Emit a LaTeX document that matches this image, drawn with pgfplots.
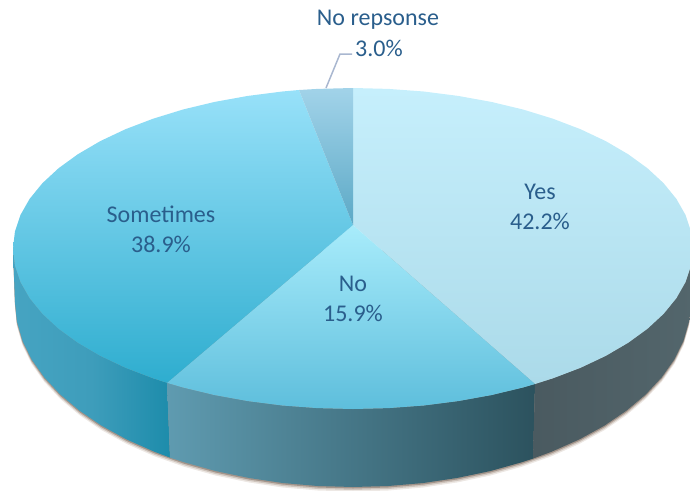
\documentclass[border=0pt]{standalone}
\usepackage{fontspec}
\setmainfont{Carlito}
\usepackage{pgfplots}
\usepackage{pgfplotstable}
\pgfplotsset{compat=1.18}

\definecolor{labelblue}{HTML}{2A5E8C}
\definecolor{leader}{HTML}{A9B7D0}
\definecolor{shadow1}{HTML}{EDE8E4}
\definecolor{shadow2}{HTML}{CFC5BD}
\definecolor{shadow3}{HTML}{A3948A}
\definecolor{sideSa}{HTML}{46A4C2}
\definecolor{sideSm}{HTML}{3E9DBB}
\definecolor{sideSb}{HTML}{1D8CAB}
\definecolor{sideNa}{HTML}{5F9BB0}
\definecolor{sideNb}{HTML}{2C525E}
\definecolor{sideYa}{HTML}{4A5A60}
\definecolor{sideYb}{HTML}{53666C}
\definecolor{yesT}{HTML}{C6EFFC}
\definecolor{yesB}{HTML}{ABDAE9}
\definecolor{noT}{HTML}{A8ECFB}
\definecolor{noB}{HTML}{5EBEDC}
\definecolor{someT}{HTML}{98E1F9}
\definecolor{someB}{HTML}{2EADCF}
\definecolor{nrT}{HTML}{A2D3E9}
\definecolor{nrB}{HTML}{5CA9C6}

% outline of the pie's foot, pixels of the picture
\pgfplotstableread{
x y
13 248.5
15 302
16.9 321.3
22.4 340.5
31.5 359.2
44.2 377.2
60.3 394.5
79.6 410.7
101.8 425.8
126.8 439.5
154.3 451.7
184 462.2
215.5 471
248.6 477.9
282.7 483
317.7 486
353 487
388.3 486
423.3 483
457.4 477.9
490.5 471
522 462.2
551.7 451.7
579.2 439.5
604.2 425.8
626.4 410.7
645.7 394.5
661.8 377.2
674.5 359.2
683.6 340.5
689.1 321.3
691 302
693 248.5
13 248.5
}\footrim

\begin{document}
\begin{tikzpicture}
\useasboundingbox (0,0) rectangle (690pt,490pt);
\begin{axis}[
  at={(0,0)}, anchor=south west,
  scale only axis,
  width=690pt, height=490pt,
  xmin=0, xmax=690, ymin=0, ymax=490,
  y dir=reverse,
  hide axis,
  no markers,
  clip=true,
]
% soft shadow
\addplot[draw=none, fill=shadow1] table[x=x, y expr=\thisrow{y}+4.5] {\footrim} -- cycle;
\addplot[draw=none, fill=shadow2] table[x=x, y expr=\thisrow{y}+3] {\footrim} -- cycle;
\addplot[draw=none, fill=shadow3] table[x=x, y expr=\thisrow{y}+1.5] {\footrim} -- cycle;

% sides
\addplot[draw=none, left color=sideSa, right color=sideSb, middle color=sideSm] coordinates {
  (167,382.8) (153.1,378.3) (125.5,367.8) (100.3,355.9) (77.9,342.8) (58.6,328.8)
  (42.4,313.8) (29.6,298.1) (20.4,281.9) (14.9,265.3) (13,248.5)
  (15,302) (16.9,321.3) (22.4,340.5) (31.5,359.2) (44.2,377.2) (60.3,394.5)
  (79.6,410.7) (101.8,425.8) (126.8,439.5) (154.3,451.7) (170,457.6)
} -- cycle;
\addplot[draw=none, left color=sideNa, right color=sideNb] coordinates {
  (535,384) (523,387.5) (491.3,395.1) (458.1,401.1) (423.7,405.5) (388.5,408.1)
  (353,409) (317.5,408.1) (282.3,405.5) (247.9,401.1) (214.7,395.1) (183,387.5) (167,382.8)
  (170,457.6) (184,462.2) (215.5,471) (248.6,477.9) (282.7,483) (317.7,486) (353,487)
  (388.3,486) (423.3,483) (457.4,477.9) (490.5,471) (522,462.2) (533,458.6)
} -- cycle;
\addplot[draw=none, left color=sideYa, right color=sideYb] coordinates {
  (693,248.5) (691.1,265.3) (685.6,281.9) (676.4,298.1) (663.6,313.8) (647.4,328.8)
  (628.1,342.8) (605.7,355.9) (580.5,367.8) (552.9,378.3) (535,384)
  (533,458.6) (551.7,451.7) (579.2,439.5) (604.2,425.8) (626.4,410.7) (645.7,394.5)
  (661.8,377.2) (674.5,359.2) (683.6,340.5) (689.1,321.3) (691,302)
} -- cycle;

% top: Yes 42.2
\addplot[draw=none, top color=yesT, bottom color=yesB] coordinates {
  (353,225) (353,88) (388.5,88.9) (423.7,91.5) (458.1,95.9) (491.3,101.9) (523,109.5)
  (552.9,118.7) (580.5,129.2) (605.7,141.1) (628.1,154.2) (647.4,168.2) (663.6,183.2)
  (676.4,198.9) (685.6,215.1) (691.1,231.7) (693,248.5) (691.1,265.3) (685.6,281.9)
  (676.4,298.1) (663.6,313.8) (647.4,328.8) (628.1,342.8) (605.7,355.9) (580.5,367.8)
  (552.9,378.3) (535,384)
} -- cycle;
% No 15.9
\addplot[draw=none, top color=noT, bottom color=noB] coordinates {
  (353,225) (535,384) (523,387.5) (491.3,395.1) (458.1,401.1) (423.7,405.5) (388.5,408.1)
  (353,409) (317.5,408.1) (282.3,405.5) (247.9,401.1) (214.7,395.1) (183,387.5) (167,382.8)
} -- cycle;
% Sometimes 38.9
\addplot[draw=none, top color=someT, bottom color=someB] coordinates {
  (353,225) (167,382.8) (153.1,378.3) (125.5,367.8) (100.3,355.9) (77.9,342.8) (58.6,328.8)
  (42.4,313.8) (29.6,298.1) (20.4,281.9) (14.9,265.3) (13,248.5) (14.9,231.7) (20.4,215.1)
  (29.6,198.9) (42.4,183.2) (58.6,168.2) (77.9,154.2) (100.3,141.1) (125.5,129.2)
  (153.1,118.7) (183,109.5) (214.7,101.9) (247.9,95.9) (282.3,91.5) (299,90)
} -- cycle;
% No response 3.0
\addplot[draw=none, top color=nrT, bottom color=nrB] coordinates {
  (353,225) (299,90) (317.5,88.9) (353,88)
} -- cycle;

% leader line
\addplot[leader, line width=1.5pt] coordinates {(326,88) (340,54) (352,54)};

\node[text=labelblue, align=center, font=\fontsize{24}{30}\selectfont] at (axis cs:540,206.5) {Yes\\42.2\%};
\node[text=labelblue, align=center, font=\fontsize{24}{30}\selectfont] at (axis cs:161,229) {Sometimes\\38.9\%};
\node[text=labelblue, align=center, font=\fontsize{24}{30}\selectfont] at (axis cs:353,298.5) {No\\15.9\%};
\node[text=labelblue, font=\fontsize{24}{28}\selectfont] at (axis cs:378,20) {No repsonse};
\node[text=labelblue, font=\fontsize{24}{28}\selectfont] at (axis cs:379,48) {3.0\%};
\end{axis}
\end{tikzpicture}
\end{document}
